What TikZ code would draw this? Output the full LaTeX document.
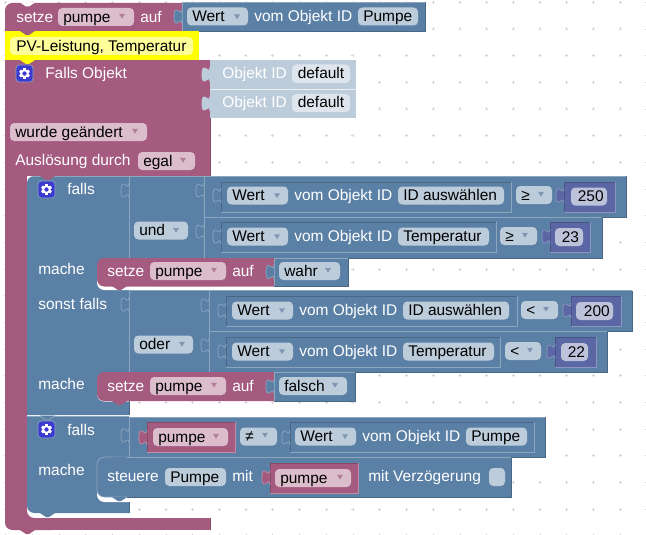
\documentclass[tikz,border=0pt]{standalone}
\usepackage{fontspec}
\setmainfont{Liberation Sans}
\definecolor{bl}{HTML}{5B80A5}\definecolor{blL}{HTML}{8CA6C0}\definecolor{blD}{HTML}{496684}
\definecolor{mg}{HTML}{A55B80}\definecolor{mgL}{HTML}{C08CA6}\definecolor{mgD}{HTML}{844966}
\definecolor{pu}{HTML}{5B67A5}\definecolor{puL}{HTML}{8C95C0}\definecolor{puD}{HTML}{495284}
\definecolor{pillb}{HTML}{BDCCDB}\definecolor{pillm}{HTML}{DBBDCC}\definecolor{pillp}{HTML}{BDC2DB}
\definecolor{pillw}{HTML}{DEE5ED}\definecolor{lt}{HTML}{BDCCDB}
\definecolor{yel}{HTML}{FFFF00}\definecolor{yelp}{HTML}{FFFF99}
\definecolor{dot}{HTML}{D6D6D6}\definecolor{gearc}{HTML}{3B3BD0}
\definecolor{drb}{HTML}{7F96B0}\definecolor{drm}{HTML}{B07F98}
\newcounter{nn}
\tikzset{txt/.style={anchor=base west,inner sep=0pt,font=\fontsize{11.6}{13}\selectfont},
  edge/.style={line width=.55pt},pillshape/.style={rounded corners=3.2pt}}
\newcommand{\T}[4]{\stepcounter{nn}\node[txt,text=#3] (t\arabic{nn}) at (#1,{#2+5.4}) {#4};}
% block: x1 y1 x2 y2 fill light dark
\newcommand{\blk}[7]{\fill[#5] (#1,#2) rectangle (#3,#4);
  \draw[edge,#6] (#1,#4)--(#1,#2)--(#3,#2);\draw[edge,#7] (#3,#2)--(#3,#4)--(#1,#4);}
% rounded-left statement block
\newcommand{\stm}[5]{\fill[#5,rounded corners=5.5pt] ({#1+30},#4)--(#1,#4)--(#1,#2)--({#1+30},#2)[sharp corners]--(#3,#2)--(#3,#4)--cycle;}
% puzzle tab at x, starting y
\newcommand{\tabb}[4]{\fill[#3] (#1,#2) .. controls (#1,{#2+10}) and ({#1-8},{#2-8}) .. ({#1-8},{#2+7.5}) .. controls ({#1-8},{#2+23}) and (#1,{#2+5}) .. (#1,{#2+15})--cycle;
  \draw[edge,#4] (#1,#2) .. controls (#1,{#2+10}) and ({#1-8},{#2-8}) .. ({#1-8},{#2+7.5}) .. controls ({#1-8},{#2+23}) and (#1,{#2+5}) .. (#1,{#2+15});}
\newcommand{\nch}[3]{\fill[#3] (#1,#2)--({#1+6},{#2+4})--({#1+9},{#2+4})--({#1+15},#2)--cycle;}
% pill: x1 x2 yc fill text
\newcommand{\pill}[5]{\fill[#4,pillshape] (#1,{#3-9}) rectangle (#2,{#3+9});\T{#1+5}{#3}{black}{#5}}
\newcommand{\drp}[3]{\fill[#3] ({#1-3},{#2-2.2})--({#1+3},{#2-2.2})--(#1,{#2+2.6})--cycle;}
\newcommand{\gear}[2]{\fill[gearc,draw=blL,line width=.5pt,rounded corners=2.5pt] (#1,#2) rectangle ({#1+17},{#2+17});
  \foreach \a in {0,60,...,300}{\fill[white,rotate around={\a:({#1+8.5},{#2+8.5})}] ({#1+7.2},{#2+3.2}) rectangle ({#1+9.8},{#2+13.8});}
  \fill[white] ({#1+8.5},{#2+8.5}) circle[radius=4.2];\fill[gearc] ({#1+8.5},{#2+8.5}) circle[radius=2.2];}
% value row: Wert [x] vom Objekt ID
\newcommand{\wert}[4]{\pill{#1}{#1+61}{#2}{pillb}{Wert}\drp{#1+50}{#2}{drb}\T{#1+67}{#2}{white}{vom Objekt ID}\pill{#1+171}{#3}{#2}{pillb}{#4}}
\begin{document}
\begin{tikzpicture}[x=.75pt,y=-.75pt]
\useasboundingbox (0,0) rectangle (646,535);
\fill[white] (0,0) rectangle (646,535);
% grid dots
\foreach \i in {0,...,24}{\foreach \j in {0,...,20}{
  \pgfmathsetmacro\px{5.5+\i*26.72}\pgfmathsetmacro\py{2.3+\j*26.67}
  \draw[dot,line width=.35pt] ({\px-1.5},\py)--({\px+1.5},\py) (\px,{\py-1.5})--(\px,{\py+1.5});}}
% --- top statement
\fill[mg,rounded corners=5.5pt] (40,31)--(5,31)--(5,3)--(40,3)[sharp corners]--(182,3)--(182,31)--cycle;
\fill[mg] (5,15) rectangle (20,31);
\nch{20}{2.5}{white}
\blk{182}{2}{425}{31}{bl}{blL}{blD}
\tabb{182}{9}{bl}{blL}
\T{16}{17}{white}{setze}
\pill{58}{134}{17}{pillm}{pumpe}\drp{122}{16}{drm}
\T{140}{17}{white}{auf}
\wert{187}{16.5}{418}{Pumpe}
% --- comment block
\fill[yel] (5,31) rectangle (199,60);
\fill[yelp,rounded corners=3.2pt] (10,37) rectangle (193,55);
\nch{20}{31}{mg}
\T{16}{46}{black}{PV-Leistung, Temperatur}
% --- trigger block
\fill[mg] (5,60) rectangle (210,176);
\fill[mg] (5,170) rectangle (27,510);
\fill[white] (27,505) rectangle (60,518);
\fill[mg,rounded corners=5.5pt] (60,518)--(60,530)--(5,530)--(5,500)--(27,500)--(27,518)--cycle;
\fill[mg] (40,518) rectangle (210,530);
\nch{20}{530}{mg}
\nch{20}{60}{yel}
\draw[edge,mgD] (210,60)--(210,176) (210,518)--(210,530);
\gear{16}{65}
\T{45}{73}{white}{Falls Objekt}
\fill[lt] (210,60) rectangle (356,118);
\draw[edge,white!70!lt] (210,89)--(356,89);
\tabb{210}{67}{lt}{lt}\tabb{210}{96}{lt}{lt}
\T{222}{73}{white}{Objekt ID}\fill[pillw,pillshape] (292,64.5) rectangle (350,83);\T{297.5}{73}{black}{default}
\T{222}{102}{white}{Objekt ID}\fill[pillw,pillshape] (292,94) rectangle (350,112);\T{297.5}{102}{black}{default}
\pill{10}{147}{132}{pillm}{wurde geändert}\drp{135}{131}{drm}
\T{15}{160}{white}{Auslösung durch}
\pill{138}{195}{161}{pillm}{egal}\drp{183}{160}{drm}
% --- first falls block
\fill[bl,rounded corners=5.5pt] (90,300)--(27,300)--(27,176)--(90,176)[sharp corners]--(129,176)--(129,415)--(27,415)--(27,290)--cycle;
\fill[white] (97,270)[rounded corners=5.5pt]--(97,290)[sharp corners]--(140,290)--(140,270)--cycle;
\fill[white] (97,385)[rounded corners=5.5pt]--(97,401.5)[sharp corners]--(140,401.5)--(140,385)--cycle;
\draw[edge,blL] (33,176)--(129,176);
\draw[edge,blD] (129,401)--(129,415);
\nch{40}{176}{mg}
\gear{38}{181}
\T{67}{189}{white}{falls}
\T{38}{269}{white}{mache}
\T{38}{304}{white}{sonst falls}
\T{38}{384}{white}{mache}
% and-block
\blk{129}{176}{204}{258}{bl}{blL}{blD}
\tabb{129}{183}{bl}{blL}
\pill{134}{188}{230.5}{pillb}{und}\drp{176}{230}{drb}
\blk{204}{176}{626}{217}{bl}{blL}{blD}
\tabb{204}{183}{bl}{blL}
\blk{221}{182}{511}{212}{bl}{blD}{blL}
\tabb{221}{188}{bl}{blL}
\wert{227}{195.5}{504}{ID auswählen}
\pill{516}{552}{195}{pillb}{≥}\drp{541}{194}{drb}
\blk{564}{182}{615}{212}{pu}{puD}{puL}
\tabb{564}{188}{pu}{puL}
\pill{571}{607}{196.5}{pillp}{\hspace{1.2pt}250}
\blk{204}{217}{602}{258}{bl}{blL}{blD}
\tabb{204}{224}{bl}{blL}
\blk{221}{222}{496}{252}{bl}{blD}{blL}
\tabb{221}{229}{bl}{blL}
\wert{227}{236.5}{489}{Temperatur}
\pill{500}{537}{236}{pillb}{≥}\drp{525}{235}{drb}
\blk{550}{222}{590}{252}{pu}{puD}{puL}
\tabb{550}{229}{pu}{puL}
\pill{555}{583}{237}{pillp}{\hspace{1.2pt}23}
% setze wahr
\stm{97}{258}{274}{286.5}{mg}
\nch{112}{286}{mg}
\blk{274}{258}{348}{286.5}{bl}{blL}{blD}
\tabb{274}{264.5}{bl}{blL}
\T{107}{271}{white}{setze}
\pill{150}{226}{271}{pillm}{pumpe}\drp{214}{270}{drm}
\T{232}{271}{white}{auf}
\pill{279}{340}{271}{pillb}{wahr}\drp{328}{270}{drb}
% or-block
\blk{129}{290}{209}{372}{bl}{blL}{blD}
\tabb{129}{297}{bl}{blL}
\pill{134}{193}{344.5}{pillb}{oder}\drp{182}{344}{drb}
\blk{209}{290.5}{632}{331}{bl}{blL}{blD}
\tabb{209}{298}{bl}{blL}
\blk{226}{296}{517}{326}{bl}{blD}{blL}
\tabb{226}{303}{bl}{blL}
\wert{232}{310.5}{509}{ID auswählen}
\pill{521}{558}{310}{pillb}{<}\drp{546}{309}{drb}
\blk{571}{296}{621}{326}{pu}{puD}{puL}
\tabb{571}{303}{pu}{puL}
\pill{576}{613}{311}{pillp}{\hspace{2pt}200}
\blk{209}{331}{607}{372}{bl}{blL}{blD}
\tabb{209}{338}{bl}{blL}
\blk{226}{337}{500}{367}{bl}{blD}{blL}
\tabb{226}{344}{bl}{blL}
\wert{232}{351.5}{494}{Temperatur}
\pill{505}{541}{351}{pillb}{<}\drp{530}{350}{drb}
\blk{555}{337}{596}{367}{pu}{puD}{puL}
\tabb{555}{344}{pu}{puL}
\pill{561}{588}{352}{pillp}{\hspace{1.2pt}22}
% setze falsch
\stm{97}{372}{274}{401}{mg}
\nch{112}{401}{mg}
\blk{274}{372}{355}{401}{bl}{blL}{blD}
\tabb{274}{379}{bl}{blL}
\T{107}{386}{white}{setze}
\pill{150}{226}{386}{pillm}{pumpe}\drp{214}{385}{drm}
\T{232}{386}{white}{auf}
\pill{279}{347}{386}{pillb}{falsch}\drp{335}{385}{drb}
% --- second falls block
\fill[bl] (27,415.5) rectangle (129,502);
\fill[bl,rounded corners=5.5pt] (90,513)--(27,513)--(27,490)--(90,490)[sharp corners]--(129,490)--(129,513)--cycle;
\fill[white] (97,480)[rounded corners=5.5pt]--(97,502)[sharp corners]--(140,502)--(140,480)--cycle;
\draw[edge,blL] (27,416)--(129,416);
\nch{40}{415.5}{bl}
\draw[edge,blL] (40,416)--(46,420)--(49,420)--(55,416);
\nch{40}{513}{bl}
\draw[edge,blD] (129,502)--(129,513);
\gear{38}{421}
\T{67}{430}{white}{falls}
\T{38}{470}{white}{mache}
\blk{129}{417}{545}{457}{bl}{blL}{blD}
\tabb{129}{428}{bl}{blL}
\blk{147}{422}{235}{452}{mg}{mgD}{mgL}
\tabb{147}{430}{mg}{mgL}
\pill{153}{228}{437}{pillm}{pumpe}\drp{216}{436}{drm}
\pill{240}{277}{436.5}{pillb}{≠}\drp{265}{435}{drb}
\blk{290}{422}{534}{452}{bl}{blD}{blL}
\tabb{290}{430}{bl}{blL}
\wert{295}{436.5}{527}{Pumpe}
% steuere
\stm{97}{457}{511}{497}{bl}
\draw[edge,blL,rounded corners=5.5pt] (127,457)--(97,457)--(97,497)--(127,497);
\draw[edge,blL] (127,457)--(511,457);
\draw[edge,blD] (511,457)--(511,497)--(127,497);
\nch{112}{456.5}{bl}
\nch{112}{497}{bl}
\T{107}{476}{white}{steuere}
\pill{165}{226}{477}{pillb}{Pumpe}
\T{232}{476}{white}{mit}
\blk{270}{463}{358}{493}{mg}{mgD}{mgL}
\tabb{270}{470}{mg}{mgL}
\pill{275}{351}{478}{pillm}{pumpe}\drp{340}{477}{drm}
\T{368}{476}{white}{mit Verzögerung}
\fill[pillb,pillshape] (489,468) rectangle (505,486);
\end{tikzpicture}
\end{document}
